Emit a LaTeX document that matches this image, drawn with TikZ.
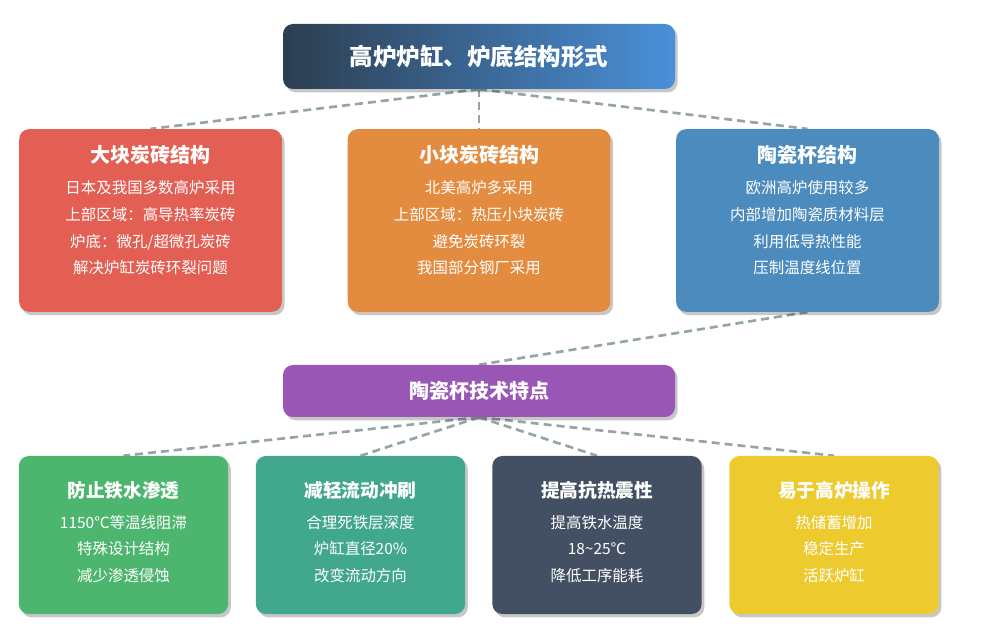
\documentclass[tikz,border=0pt]{standalone}
\usepackage{fontspec}
\setmainfont{Noto Sans CJK SC}
\usetikzlibrary{shadows,backgrounds}
\definecolor{cred}{HTML}{E35F53}
\definecolor{corange}{HTML}{E38B3F}
\definecolor{cblue}{HTML}{4B8BBE}
\definecolor{cpurple}{HTML}{9956B4}
\definecolor{cgreen}{HTML}{4DB66E}
\definecolor{cteal}{HTML}{41A88E}
\definecolor{cdark}{HTML}{435063}
\definecolor{cyellow}{HTML}{EDCB2F}
\definecolor{tleft}{HTML}{2C3E50}
\definecolor{tright}{HTML}{4A90D9}
\definecolor{cline}{HTML}{95A5A6}
\tikzset{
  card/.style={rounded corners=7.5pt, inner sep=0pt,
    drop shadow={shadow xshift=2pt, shadow yshift=-2.5pt, opacity=0.22, fill=black}},
  conn/.style={draw=cline, line width=2pt, dash pattern=on 6pt off 3.75pt},
  headtxt/.style={text=white, font=\bfseries\fontsize{15}{18}\selectfont},
  headsm/.style={text=white, font=\bfseries\fontsize{14}{17}\selectfont},
  bodytxt/.style={text=white, align=center, font=\fontsize{11.6}{20}\selectfont},
}
\begin{document}
\begin{tikzpicture}[x=0.75pt,y=-0.75pt]
\useasboundingbox (0,0) rectangle (1000,641);
% title
\node[card, left color=tleft, right color=tright, minimum width=294pt, minimum height=48.75pt,
  text=white, font=\bfseries\fontsize{17.6}{20}\selectfont] (title) at (479,56.5) {高炉炉缸、炉底结构形式};
% top row
\node[card, fill=cred, minimum width=197pt, minimum height=137pt] (big) at (150.5,220.5) {};
\node[card, fill=corange, minimum width=197pt, minimum height=137pt] (small) at (479,220.5) {};
\node[card, fill=cblue, minimum width=197pt, minimum height=137pt] (cup) at (807.5,220.5) {};
\node[headtxt] (bigh) at (150.5,155) {大块炭砖结构};
\node[bodytxt] (bigb) at (150.5,228) {日本及我国多数高炉采用\\上部区域：高导热率炭砖\\炉底：微孔/超微孔炭砖\\解决炉缸炭砖环裂问题};
\node[headtxt] (smallh) at (479,155) {小块炭砖结构};
\node[bodytxt] (smallb) at (479,228) {北美高炉多采用\\上部区域：热压小块炭砖\\避免炭砖环裂\\我国部分钢厂采用};
\node[headtxt] (cuph) at (807.5,155) {陶瓷杯结构};
\node[bodytxt] (cupb) at (807.5,228) {欧洲高炉使用较多\\内部增加陶瓷质材料层\\利用低导热性能\\压制温度线位置};
% purple
\node[card, fill=cpurple, minimum width=294pt, minimum height=39pt, headtxt] (feat) at (479,391) {陶瓷杯技术特点};
% bottom row
\node[card, fill=cgreen, minimum width=157pt, minimum height=118.5pt] (f1) at (123.5,535) {};
\node[card, fill=cteal, minimum width=157pt, minimum height=118.5pt] (f2) at (360.5,535) {};
\node[card, fill=cdark, minimum width=157pt, minimum height=118.5pt] (f3) at (597,535) {};
\node[card, fill=cyellow, minimum width=157pt, minimum height=118.5pt] (f4) at (834,535) {};
\node[headsm] (f1h) at (123.5,490) {防止铁水渗透};
\node[bodytxt] (f1b) at (123.5,549) {1150℃等温线阻滞\\特殊设计结构\\减少渗透侵蚀};
\node[headsm] (f2h) at (360.5,490) {减轻流动冲刷};
\node[bodytxt] (f2b) at (360.5,549) {合理死铁层深度\\炉缸直径20\%\\改变流动方向};
\node[headsm] (f3h) at (597,490) {提高抗热震性};
\node[bodytxt] (f3b) at (597,549) {提高铁水温度\\18\textasciitilde 25℃\\降低工序能耗};
\node[headsm] (f4h) at (834,490) {易于高炉操作};
\node[bodytxt] (f4b) at (834,549) {热储蓄增加\\稳定生产\\活跃炉缸};
% connectors
\begin{scope}[on background layer]
\draw[conn] (title.south) -- (big.north);
\draw[conn] (title.south) -- (small.north);
\draw[conn] (title.south) -- (cup.north);
\draw[conn] (cup.south) -- (feat.north);
\draw[conn] (feat.south) -- (f1.north);
\draw[conn] (feat.south) -- (f2.north);
\draw[conn] (feat.south) -- (f3.north);
\draw[conn] (feat.south) -- (f4.north);
\end{scope}
\end{tikzpicture}
\end{document}
